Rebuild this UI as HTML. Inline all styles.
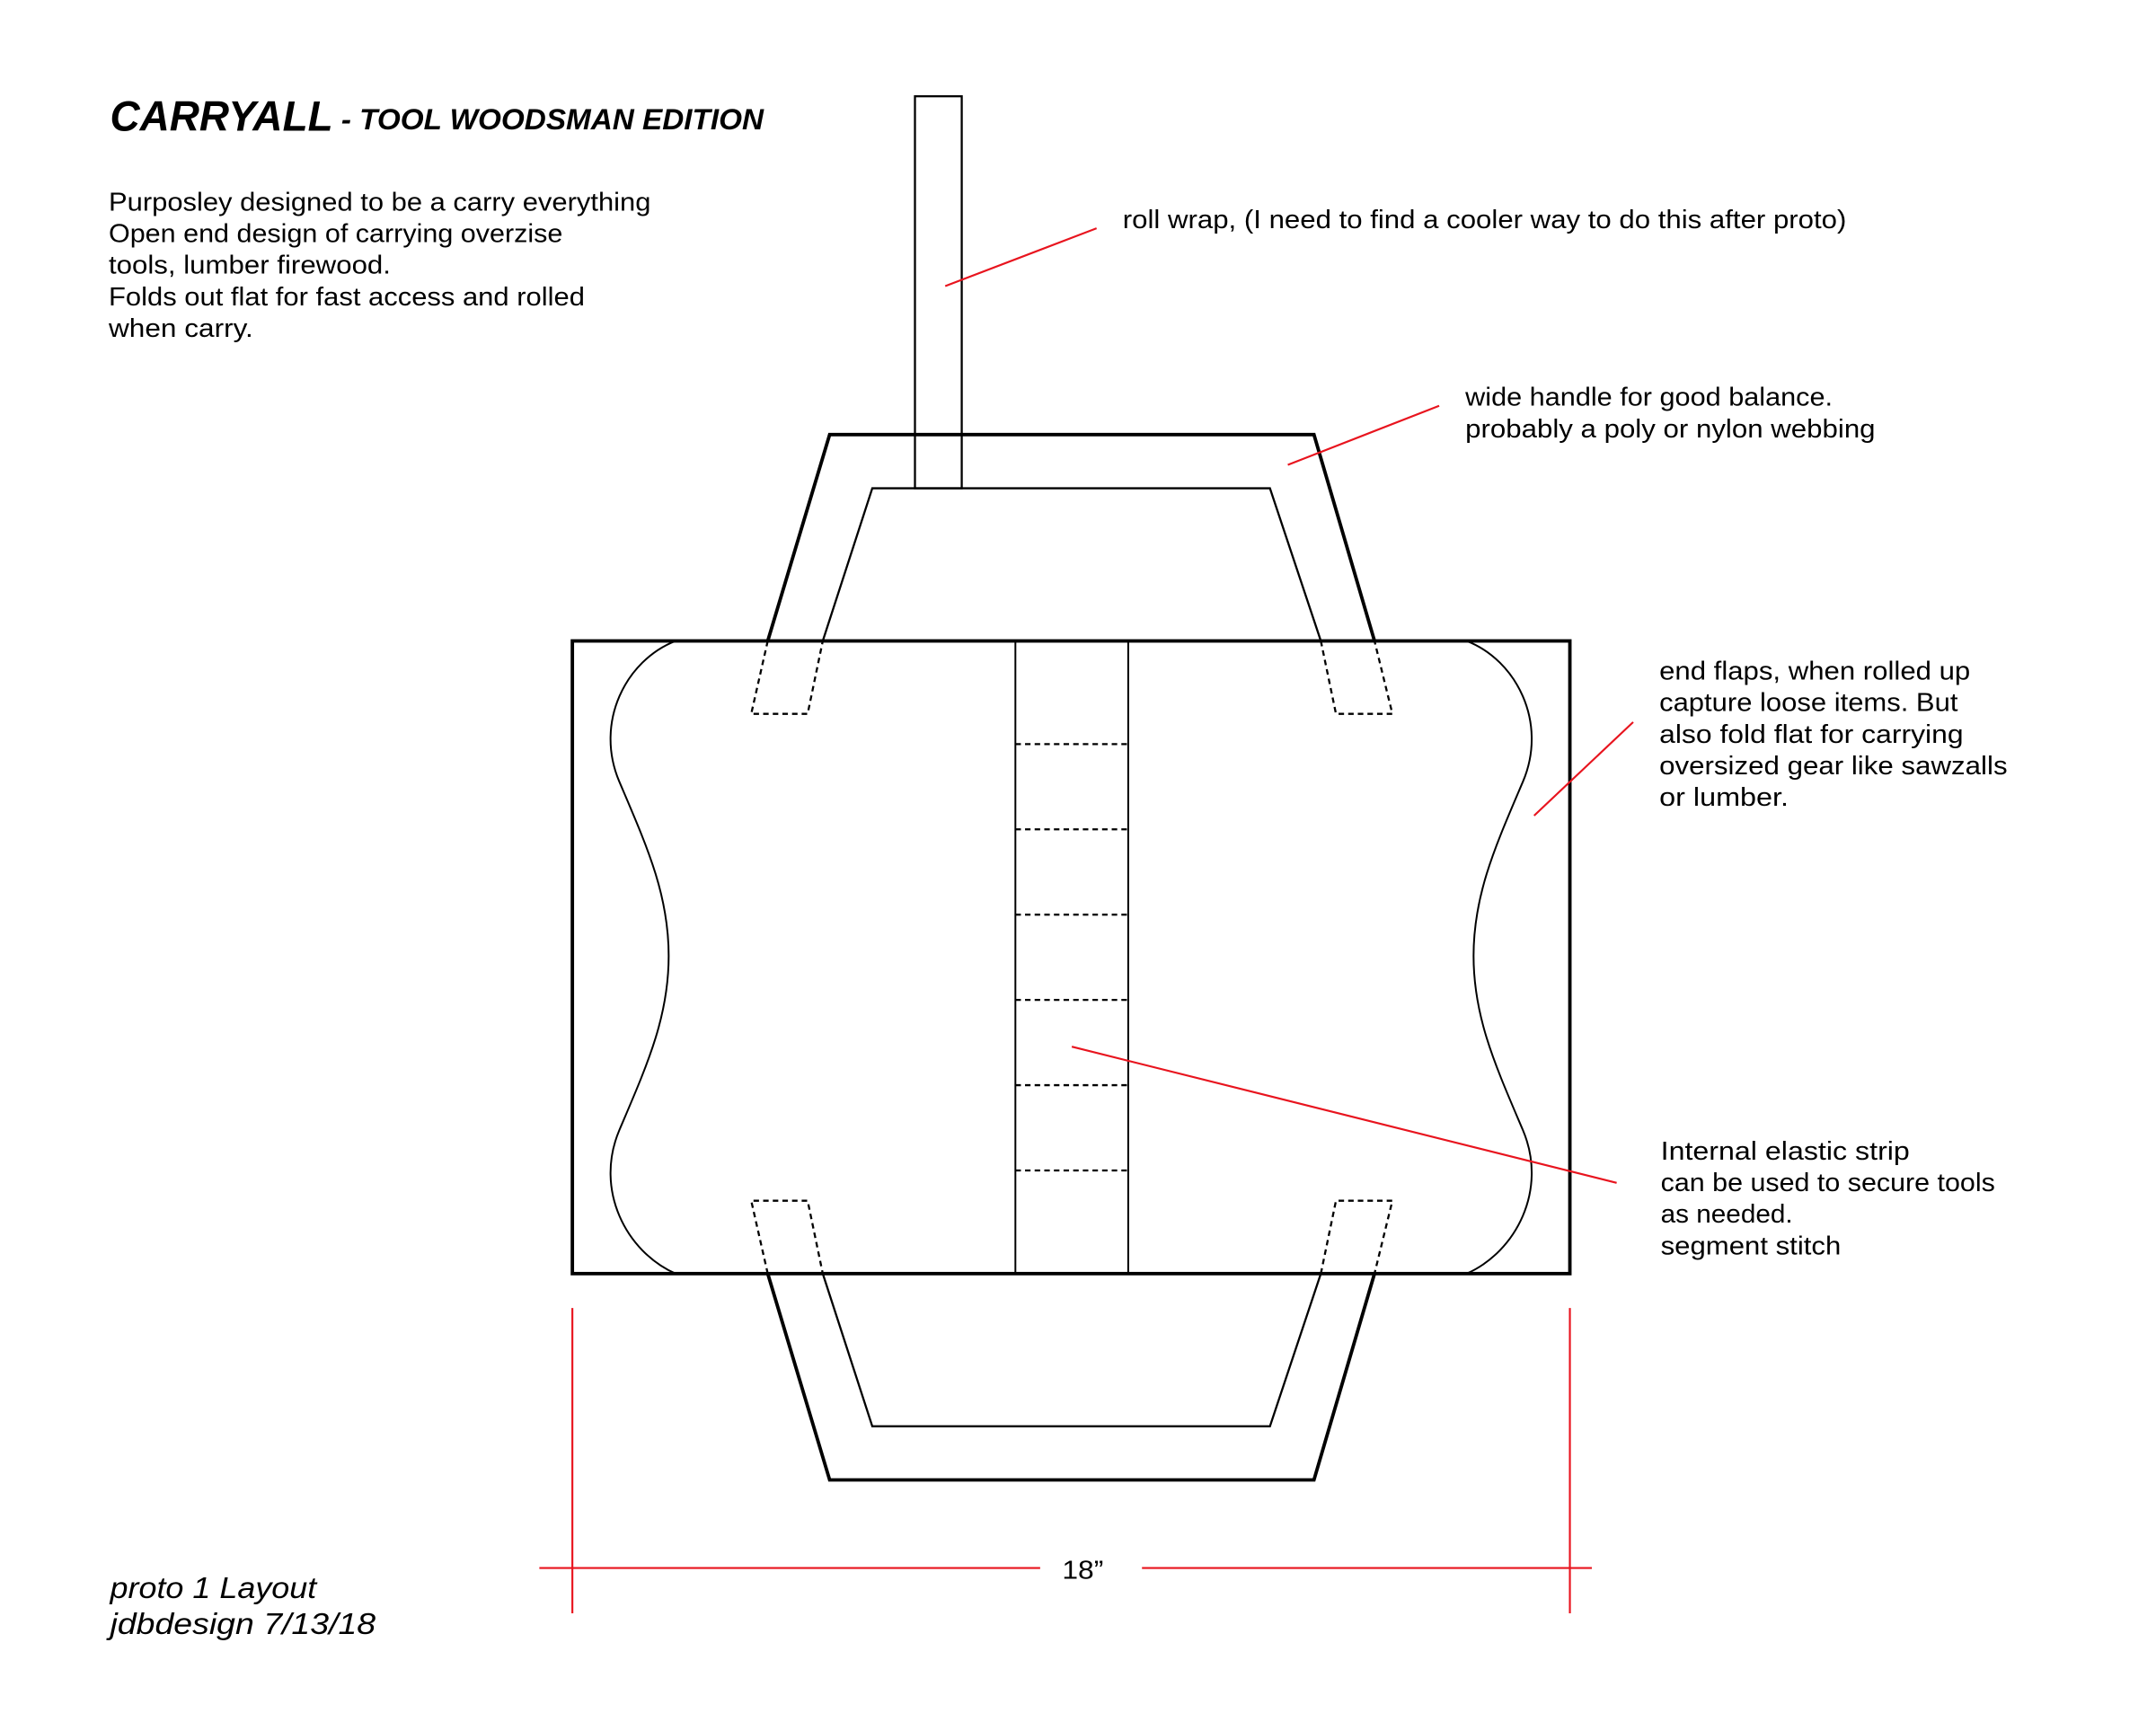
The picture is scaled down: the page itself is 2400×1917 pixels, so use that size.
<!DOCTYPE html>
<html><head><meta charset="utf-8"><style>
html,body{margin:0;padding:0;background:#fff;}
svg{display:block;}
text{font-family:"Liberation Sans",sans-serif;fill:#000;}
</style></head><body>
<svg width="2400" height="1917" viewBox="0 0 1567 1252" preserveAspectRatio="none" xmlns="http://www.w3.org/2000/svg">
<rect width="1567" height="1252" fill="#fff"/>
<g font-style="italic" font-weight="bold">
<text x="80" y="95" font-size="31" textLength="162" lengthAdjust="spacingAndGlyphs">CARRYALL</text>
<text x="248" y="94" font-size="21" textLength="307" lengthAdjust="spacingAndGlyphs">- TOOL WOODSMAN EDITION</text>
</g>
<g font-size="18.5">
<text x="79" y="153" textLength="394" lengthAdjust="spacingAndGlyphs">Purposley designed to be a carry everything</text>
<text x="79" y="176" textLength="330" lengthAdjust="spacingAndGlyphs">Open end design of carrying overzise</text>
<text x="79" y="199" textLength="205" lengthAdjust="spacingAndGlyphs">tools, lumber firewood.</text>
<text x="79" y="222" textLength="346" lengthAdjust="spacingAndGlyphs">Folds out flat for fast access and rolled</text>
<text x="79" y="245" textLength="105" lengthAdjust="spacingAndGlyphs">when carry.</text>
<text x="816" y="166" textLength="526" lengthAdjust="spacingAndGlyphs">roll wrap, (I need to find a cooler way to do this after proto)</text>
<text x="1065" y="295" textLength="267" lengthAdjust="spacingAndGlyphs">wide handle for good balance.</text>
<text x="1065" y="318" textLength="298" lengthAdjust="spacingAndGlyphs">probably a poly or nylon webbing</text>
<text x="1206" y="494" textLength="226" lengthAdjust="spacingAndGlyphs">end flaps, when rolled up</text>
<text x="1206" y="517" textLength="217" lengthAdjust="spacingAndGlyphs">capture loose items. But</text>
<text x="1206" y="540" textLength="221" lengthAdjust="spacingAndGlyphs">also fold flat for carrying</text>
<text x="1206" y="563" textLength="253" lengthAdjust="spacingAndGlyphs">oversized gear like sawzalls</text>
<text x="1206" y="586" textLength="94" lengthAdjust="spacingAndGlyphs">or lumber.</text>
<text x="1207" y="843" textLength="181" lengthAdjust="spacingAndGlyphs">Internal elastic strip</text>
<text x="1207" y="866" textLength="243" lengthAdjust="spacingAndGlyphs">can be used to secure tools</text>
<text x="1207" y="889" textLength="96" lengthAdjust="spacingAndGlyphs">as needed.</text>
<text x="1207" y="912" textLength="131" lengthAdjust="spacingAndGlyphs">segment stitch</text>
<text x="772" y="1148" textLength="30" lengthAdjust="spacingAndGlyphs">18”</text>
</g>
<g font-style="italic" font-size="22">
<text x="80" y="1162" textLength="150" lengthAdjust="spacingAndGlyphs">proto 1 Layout</text>
<text x="80" y="1188" textLength="193" lengthAdjust="spacingAndGlyphs">jdbdesign 7/13/18</text>
</g>
<g fill="none" stroke="#000">
<rect x="665" y="70" width="34" height="285" stroke-width="1.5"/>
<polyline points="558,466 603,316 955,316 999,466" stroke-width="2.5"/>
<polyline points="598,466 634,355 923,355 960,466" stroke-width="1.5"/>
<polyline points="558,926 603,1076 955,1076 999,926" stroke-width="2.5"/>
<polyline points="598,926 634,1037 923,1037 960,926" stroke-width="1.5"/>
<rect x="416" y="466" width="725" height="460" stroke-width="2.5"/>
<line x1="738" y1="466" x2="738" y2="926" stroke-width="1.3"/>
<line x1="820" y1="466" x2="820" y2="926" stroke-width="1.3"/>
<g stroke-dasharray="4,3" stroke-width="1.5">
<line x1="738" y1="541" x2="820" y2="541"/>
<line x1="738" y1="603" x2="820" y2="603"/>
<line x1="738" y1="665" x2="820" y2="665"/>
<line x1="738" y1="727" x2="820" y2="727"/>
<line x1="738" y1="789" x2="820" y2="789"/>
<line x1="738" y1="851" x2="820" y2="851"/>
<polyline points="558,466 546,519 587,519 598,466"/>
<polyline points="960,466 971,519 1012,519 999,466"/>
<polyline points="558,926 546,873 587,873 598,926"/>
<polyline points="960,926 971,873 1012,873 999,926"/>
</g>
<path d="M491,466 C455,480 432,525 450,568 C470,615 486,650 486,695 C486,740 470,775 450,822 C432,865 455,910 491,926" stroke-width="1.3"/>
<path d="M1066,466 C1102,480 1125,525 1107,568 C1087,615 1071,650 1071,695 C1071,740 1087,775 1107,822 C1125,865 1102,910 1066,926" stroke-width="1.3"/>
</g>
<g stroke="#e8141e" stroke-width="1.4" fill="none">
<line x1="687" y1="208" x2="797" y2="166"/>
<line x1="936" y1="338" x2="1046" y2="295"/>
<line x1="1115" y1="593" x2="1187" y2="525"/>
<line x1="779" y1="761" x2="1175" y2="860"/>
<line x1="416" y1="951" x2="416" y2="1173"/>
<line x1="1141" y1="951" x2="1141" y2="1173"/>
<line x1="392" y1="1140" x2="756" y2="1140"/>
<line x1="830" y1="1140" x2="1157" y2="1140"/>
</g>
</svg>
</body></html>
